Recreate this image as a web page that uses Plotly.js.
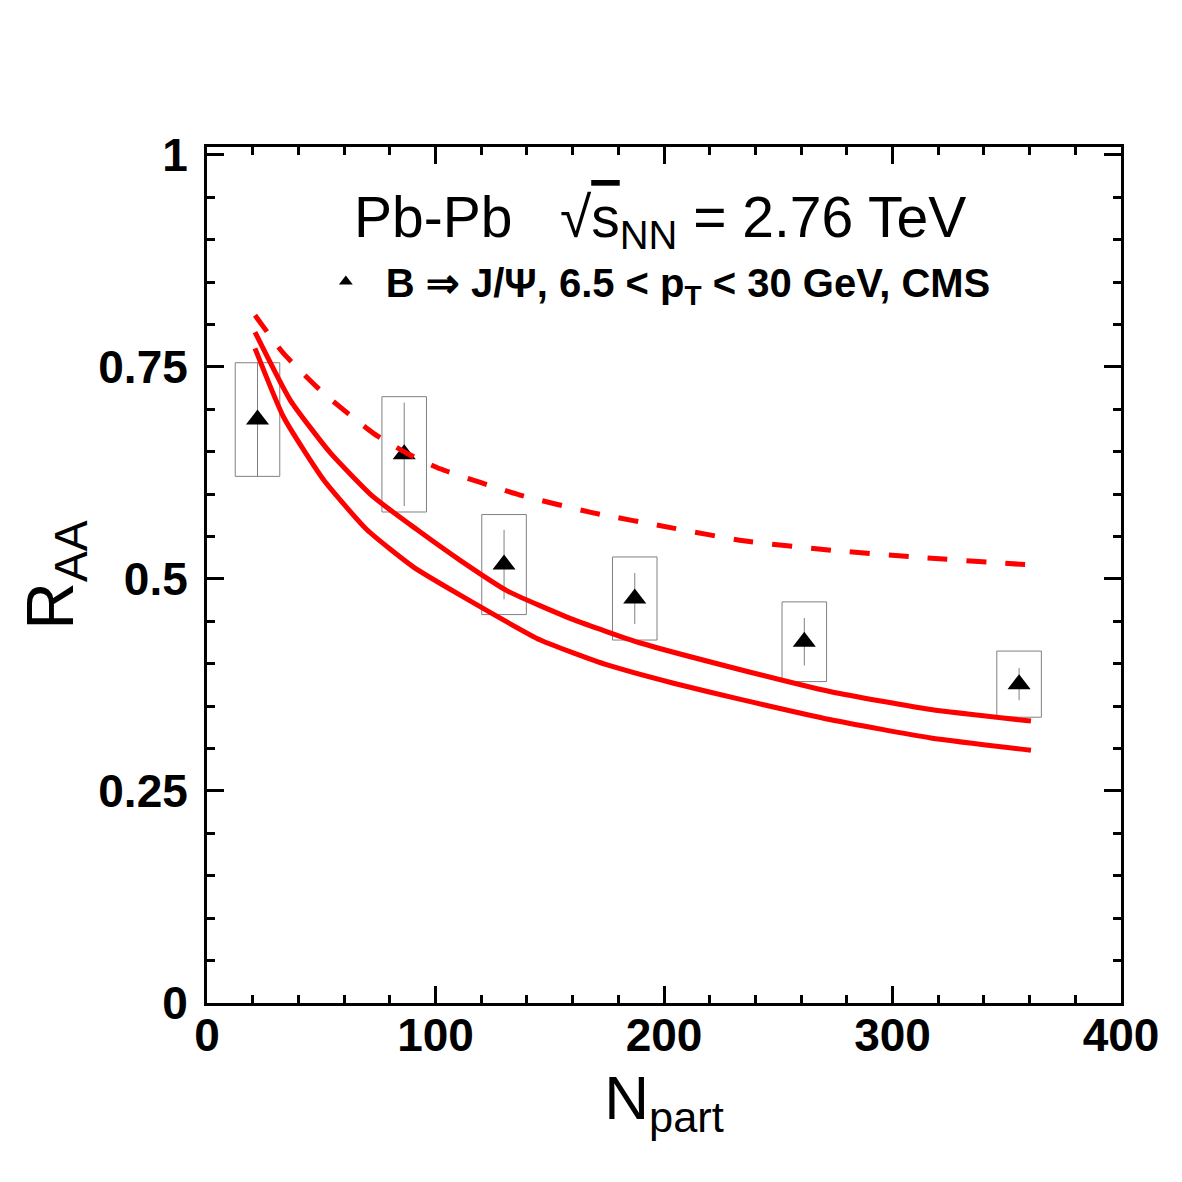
<!DOCTYPE html>
<html>
<head>
<meta charset="utf-8">
<script src="https://cdn.plot.ly/plotly-3.0.1.min.js"></script>
<style>
  html, body { margin: 0; padding: 0; background: #fff; }
  #chart { width: 1182px; height: 1182px; }
</style>
</head>
<body>
<div id="chart"></div>
<script>
// Non-prompt J/psi (B -> J/psi) nuclear modification factor vs. centrality
const nPart    = [22.1, 86.3, 130.0, 187.2, 261.4, 355.4];
const raa      = [0.688, 0.647, 0.517, 0.477, 0.426, 0.376];
const statErr  = [0.067, 0.061, 0.041, 0.030, 0.028, 0.019];
const systErr  = [0.067, 0.068, 0.059, 0.049, 0.047, 0.039];

// Model curves
const modelUpperX = [21, 36.4, 53.9, 72.7, 92, 110.8, 131.4, 160.4, 189.7, 233.5, 273, 316.8, 360.6];
const modelUpperY = [0.791, 0.711, 0.649, 0.597, 0.558, 0.522, 0.486, 0.452, 0.4245, 0.393, 0.367, 0.346, 0.3325];
const modelLowerX = [21, 33.5, 51, 70, 90.4, 110.8, 145.9, 175.2, 204.2, 233.5, 273, 316.8, 360.6];
const modelLowerY = [0.772, 0.691, 0.617, 0.558, 0.514, 0.481, 0.428, 0.3986, 0.377, 0.358, 0.334, 0.3125, 0.298];
const modelDashX  = [21, 33.5, 51, 72.7, 87.6, 102, 137, 169, 204, 234.8, 273, 309, 360.6];
const modelDashY  = [0.811, 0.766, 0.719, 0.672, 0.648, 0.630, 0.599, 0.578, 0.560, 0.545, 0.534, 0.526, 0.5165];

const xTickVals = [0, 100, 200, 300, 400];
const yTickVals = [0, 0.25, 0.5, 0.75, 1];

const legendLabel = '\u2002B \u21D2 J/\u03A8, 6.5 < p<sub>T</sub> < 30 GeV, CMS';
const headerText = 'Pb-Pb   \u221A<span style="text-decoration:overline">s</span><sub>NN</sub> = 2.76 TeV';

const FONT = 'Liberation Sans, Arial, Helvetica, sans-serif';
const boxHalfWidth = 9.75;

const traces = [
  {
    x: nPart, y: raa, type: 'scatter', mode: 'markers',
    name: legendLabel,
    marker: { symbol: 'triangle-up', size: 20, color: '#000' },
    error_y: { type: 'data', array: statErr, visible: true, color: '#808080', thickness: 1, width: 0 },
    showlegend: true
  },
  {
    x: modelDashX, y: modelDashY, type: 'scatter', mode: 'lines',
    line: { color: '#ff0000', width: 5, dash: '20px,19px', shape: 'spline', smoothing: 0.5 }, showlegend: false
  },
  {
    x: modelUpperX, y: modelUpperY, type: 'scatter', mode: 'lines',
    line: { color: '#ff0000', width: 5, shape: 'spline', smoothing: 0.5 }, showlegend: false
  },
  {
    x: modelLowerX, y: modelLowerY, type: 'scatter', mode: 'lines',
    line: { color: '#ff0000', width: 5, shape: 'spline', smoothing: 0.5 }, showlegend: false
  }
];

// Systematic uncertainty boxes
const shapes = nPart.map((x, i) => ({
  type: 'rect', xref: 'x', yref: 'y', layer: 'below',
  x0: x - boxHalfWidth, x1: x + boxHalfWidth,
  y0: raa[i] - systErr[i], y1: raa[i] + systErr[i],
  line: { color: '#808080', width: 1 }, fillcolor: 'rgba(0,0,0,0)'
}));

const axisCommon = {
  showline: true, linecolor: '#000', linewidth: 3, mirror: 'allticks',
  ticks: 'inside', ticklen: 17, tickwidth: 3, tickcolor: '#000',
  showgrid: false, zeroline: false, automargin: false,
  tickfont: { family: FONT, size: 46, color: '#000', weight: 'bold' }
};

const layout = {
  width: 1182, height: 1182,
  margin: { l: 207, r: 61, t: 147, b: 179 },
  paper_bgcolor: '#fff', plot_bgcolor: '#fff',
  font: { family: FONT, color: '#000' },
  showlegend: true,
  legend: {
    x: 0.13, y: 0.843, xanchor: 'left', yanchor: 'middle',
    bgcolor: 'rgba(0,0,0,0)', borderwidth: 0, itemsizing: 'constant',
    font: { family: FONT, size: 40, color: '#000', weight: 'bold' }
  },
  xaxis: Object.assign({}, axisCommon, {
    range: [0, 400], tickvals: xTickVals, ticklabelstandoff: -10,
    minor: { dtick: 20, ticks: 'inside', ticklen: 8, tickwidth: 3, tickcolor: '#000' },
    title: { text: 'N<sub>part</sub>', font: { family: FONT, size: 62, color: '#000' }, standoff: 16 }
  }),
  yaxis: Object.assign({}, axisCommon, {
    range: [0, 1.0094], tickvals: yTickVals, ticklabelstandoff: 7,
    minor: { dtick: 0.05, ticks: 'inside', ticklen: 8, tickwidth: 3, tickcolor: '#000' },
    title: { text: 'R<sub>AA</sub>', font: { family: FONT, size: 66, color: '#000' }, standoff: 4 }
  }),
  shapes: shapes,
  annotations: [
    {
      xref: 'x', yref: 'y', x: 63.5, y: 0.8776, xanchor: 'left', yanchor: 'bottom',
      text: headerText, showarrow: false,
      font: { family: FONT, size: 57, color: '#000' }
    }
  ]
};

Plotly.newPlot('chart', traces, layout, { staticPlot: true });
</script>
</body>
</html>
